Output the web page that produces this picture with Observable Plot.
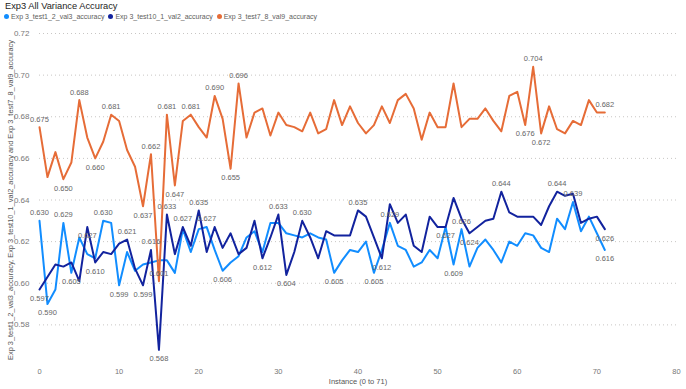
<!DOCTYPE html>
<html>
<head>
<meta charset="utf-8">
<script src="https://cdn.jsdelivr.net/npm/d3@7"></script>
<script src="https://cdn.jsdelivr.net/npm/@observablehq/plot@0.6"></script>
<style>
  html, body { margin: 0; padding: 0; background: #fff; }
  #wrap { position: relative; width: 686px; height: 389px; overflow: hidden; font-family: "Liberation Sans", Arial, sans-serif; }
  #title { position: absolute; left: 5px; top: 1px; font-size: 9.3px; color: #252423; white-space: nowrap; }
  #legend { position: absolute; left: 4px; top: 13px; font-size: 7px; color: #605e5c; white-space: nowrap; display: flex; align-items: center; }
  #legend .item { display: flex; align-items: center; margin-right: 4px; }
  #legend .dot { width: 5px; height: 5px; border-radius: 50%; margin-right: 2px; display: inline-block; }
  #chart { position: absolute; left: 0; top: 0; }
</style>
</head>
<body>
<div id="wrap">
  <div id="chart"></div>
  <div id="title"></div>
  <div id="legend"></div>
</div>
<script>
const chartTitle = "Exp3 All Variance Accuracy";
const seriesNames = ["Exp 3_test1_2_val3_accuracy", "Exp 3_test10_1_val2_accuracy", "Exp 3_test7_8_val9_accuracy"];
const seriesColors = ["#118DFF", "#12239E", "#E66C37"];
const xTitle = "Instance (0 to 71)";
const yTitle = "Exp 3_test1_2_val3_accuracy, Exp 3_test10_1_val2_accuracy and Exp 3_test7_8_val9_accuracy";
const xTicks = [0, 10, 20, 30, 40, 50, 60, 70, 80];
const yTicks = [0.58, 0.60, 0.62, 0.64, 0.66, 0.68, 0.70, 0.72];

// Exp 3_test1_2_val3_accuracy (light blue), instances 0..71
const val3 = [
  0.630, 0.590, 0.597, 0.629, 0.605, 0.622, 0.614, 0.612, 0.630, 0.629,
  0.599, 0.615, 0.606, 0.609, 0.610, 0.611, 0.611, 0.605, 0.626, 0.615,
  0.626, 0.627, 0.616, 0.606, 0.610, 0.613, 0.622, 0.625, 0.615, 0.629,
  0.629, 0.624, 0.623, 0.622, 0.624, 0.622, 0.621, 0.605, 0.611, 0.616,
  0.615, 0.620, 0.605, 0.616, 0.629, 0.618, 0.616, 0.608, 0.610, 0.616,
  0.612, 0.627, 0.609, 0.626, 0.608, 0.617, 0.621, 0.616, 0.610, 0.620,
  0.618, 0.624, 0.623, 0.617, 0.615, 0.631, 0.626, 0.639, 0.625, 0.632,
  0.624, 0.616
];
// Exp 3_test10_1_val2_accuracy (navy)
const val2 = [
  0.597, 0.603, 0.609, 0.608, 0.610, 0.601, 0.627, 0.610, 0.615, 0.614,
  0.619, 0.621, 0.607, 0.599, 0.616, 0.568, 0.633, 0.614, 0.627, 0.618,
  0.635, 0.615, 0.627, 0.617, 0.624, 0.614, 0.617, 0.630, 0.612, 0.622,
  0.633, 0.604, 0.615, 0.630, 0.622, 0.612, 0.625, 0.623, 0.623, 0.623,
  0.635, 0.632, 0.622, 0.612, 0.638, 0.629, 0.633, 0.618, 0.615, 0.632,
  0.627, 0.627, 0.641, 0.631, 0.624, 0.627, 0.630, 0.631, 0.644, 0.634,
  0.632, 0.632, 0.632, 0.628, 0.637, 0.644, 0.642, 0.643, 0.629, 0.631,
  0.632, 0.626
];
// Exp 3_test7_8_val9_accuracy (orange)
const val9 = [
  0.675, 0.651, 0.663, 0.650, 0.658, 0.688, 0.670, 0.660, 0.668, 0.681,
  0.678, 0.664, 0.656, 0.637, 0.662, 0.601, 0.681, 0.647, 0.678, 0.681,
  0.675, 0.670, 0.690, 0.679, 0.655, 0.696, 0.670, 0.682, 0.684, 0.671,
  0.682, 0.676, 0.675, 0.673, 0.682, 0.672, 0.674, 0.688, 0.676, 0.685,
  0.677, 0.672, 0.676, 0.685, 0.677, 0.688, 0.691, 0.684, 0.669, 0.682,
  0.675, 0.675, 0.696, 0.675, 0.679, 0.679, 0.684, 0.678, 0.673, 0.690,
  0.692, 0.676, 0.704, 0.672, 0.685, 0.674, 0.672, 0.678, 0.676, 0.688,
  0.682, 0.682
];
const seriesValues = [val3, val2, val9];

// which instances carry a data label, above or below the point
const labeledAbove = [
  [0, 3, 8, 21, 44, 53, 67],
  [11, 14, 16, 18, 20, 30, 33, 40, 58, 65],
  [0, 5, 9, 14, 15, 16, 19, 22, 25, 62, 71]
];
const labeledBelow = [
  [1, 4, 10, 23, 37, 42, 51, 52, 71],
  [0, 6, 7, 13, 15, 28, 31, 43, 54, 71],
  [3, 7, 13, 17, 24, 61, 63]
];

const rows = seriesNames.flatMap((s, k) => seriesValues[k].map((v, i) => ({s, i, v})));
const above = seriesNames.flatMap((s, k) => labeledAbove[k].map(i => ({s, i, v: seriesValues[k][i]})));
const below = seriesNames.flatMap((s, k) => labeledBelow[k].map(i => ({s, i, v: seriesValues[k][i]})));
const fmt = d3.format(".3f");

document.getElementById("title").textContent = chartTitle;
const legend = document.getElementById("legend");
seriesNames.forEach((s, k) => {
  const it = document.createElement("span");
  it.className = "item";
  const dot = document.createElement("span");
  dot.className = "dot";
  dot.style.background = seriesColors[k];
  it.appendChild(dot);
  it.appendChild(document.createTextNode(s));
  legend.appendChild(it);
});

const chart = Plot.plot({
  width: 686,
  height: 389,
  marginTop: 33,
  marginBottom: 23,
  marginLeft: 39,
  marginRight: 10,
  style: {fontFamily: "'Liberation Sans', Arial, sans-serif", background: "transparent", color: "#777"},
  x: {domain: [0, 80]},
  y: {domain: [0.56, 0.72]},
  color: {domain: seriesNames, range: seriesColors},
  marks: [
    Plot.gridY(yTicks, {stroke: "#c8c6c4", strokeOpacity: 1, strokeDasharray: "1,3"}),
    Plot.axisY(yTicks, {tickSize: 0, tickPadding: 10, tickFormat: ".2f", fontSize: 8, fill: "#777", label: null}),
    Plot.axisX(xTicks, {tickSize: 0, tickPadding: 2, fontSize: 7.5, fill: "#777", label: null}),
    Plot.lineY(rows, {x: "i", y: "v", z: "s", stroke: "s", strokeWidth: 2}),
    Plot.text(above, {x: "i", y: "v", text: d => fmt(d.v), dy: -8, fontSize: 7.5, fill: "#666"}),
    Plot.text(below, {x: "i", y: "v", text: d => fmt(d.v), dy: 9, fontSize: 7.5, fill: "#666"}),
    Plot.text([yTitle], {frameAnchor: "left", textAnchor: "middle", rotate: -90, dx: -29, fontSize: 7.4, fill: "#555"}),
    Plot.text([xTitle], {frameAnchor: "bottom", textAnchor: "middle", dy: 17, fontSize: 7.5, fill: "#555"})
  ]
});
document.getElementById("chart").appendChild(chart);
</script>
</body>
</html>
